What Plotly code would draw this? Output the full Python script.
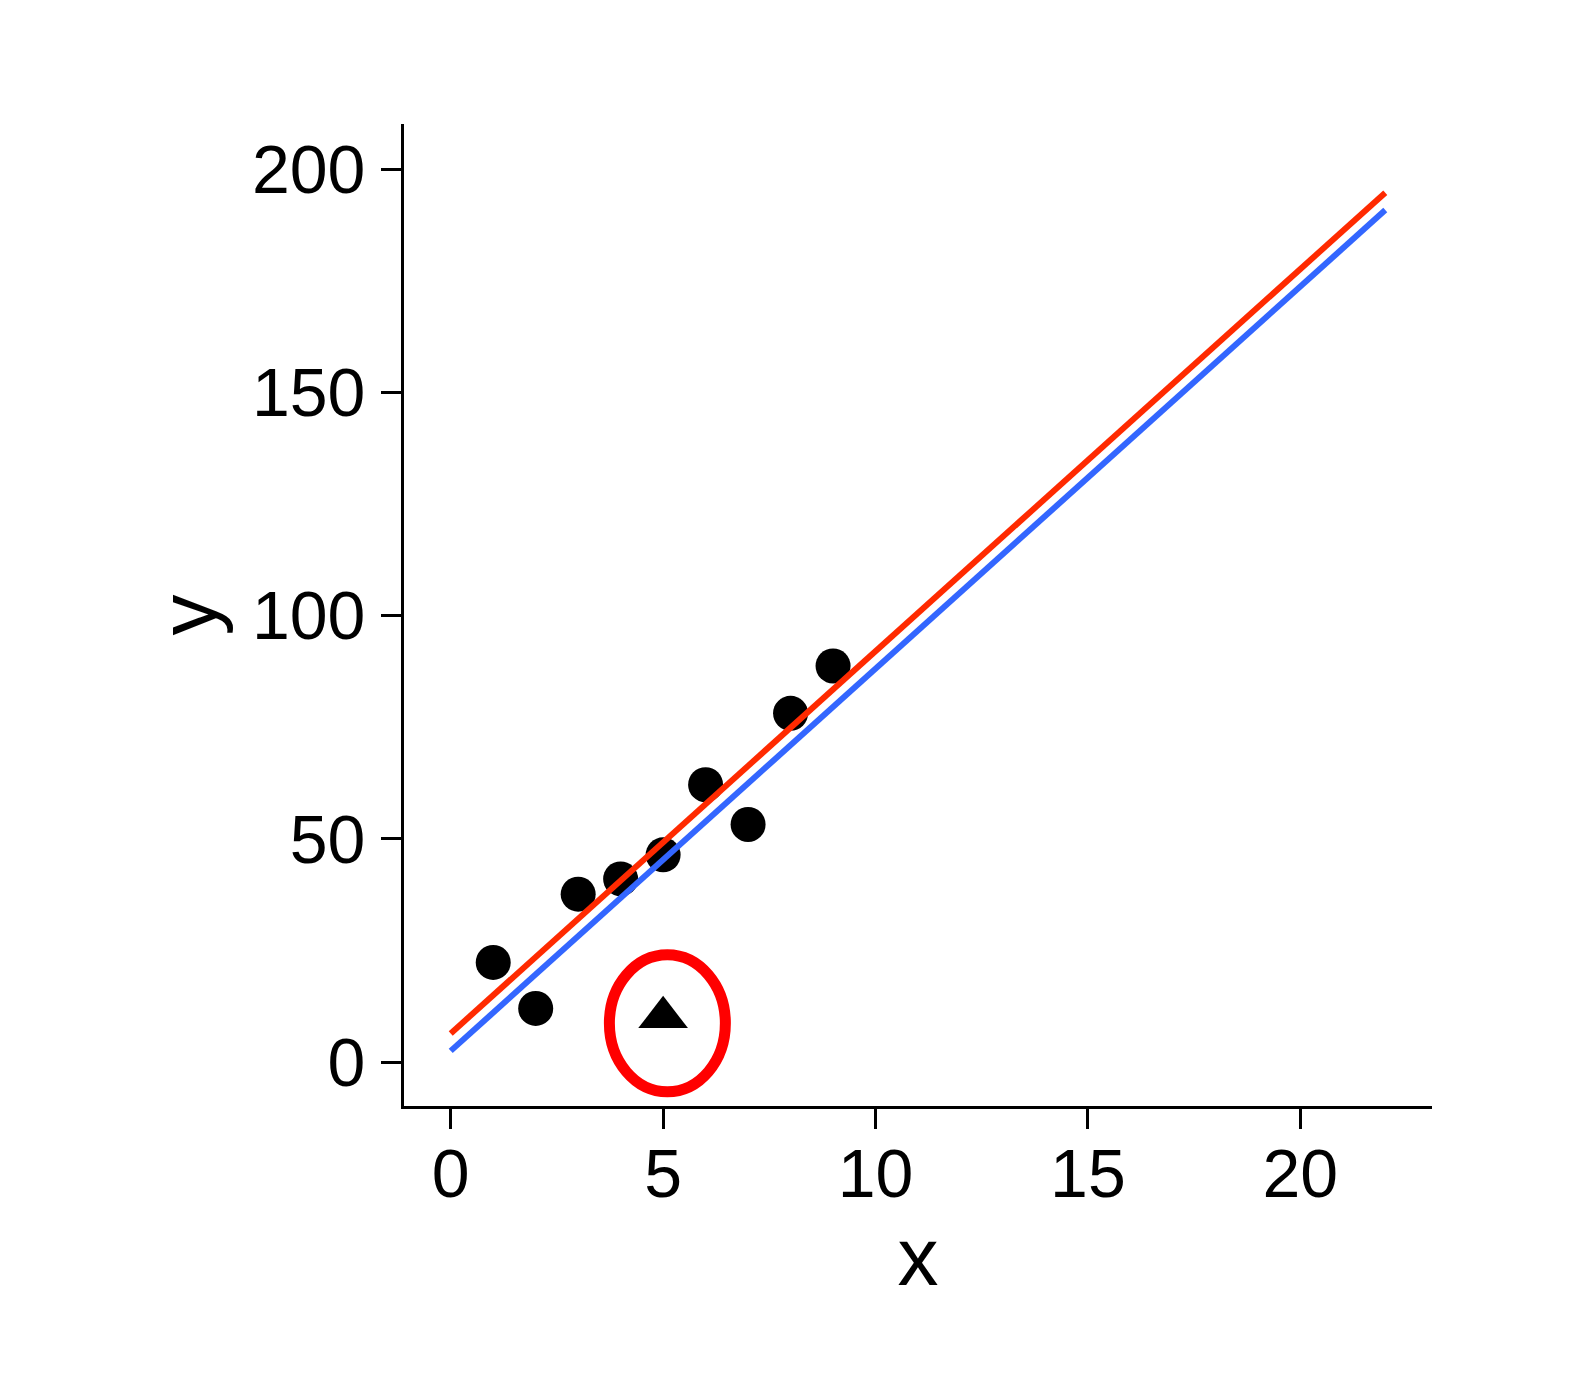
import plotly.graph_objects as go

# ---- data ----
pt_x = [1, 2, 3, 4, 5, 6, 7, 8, 9]
pt_y = [22.3, 12.0, 37.6, 41.0, 46.4, 62.1, 53.2, 78.1, 88.7]

outlier_x = [5]
outlier_y = [10.0]

line_x = [0, 22]
fit_without_outlier = [6.4, 194.7]   # red
fit_with_outlier = [2.5, 190.8]      # blue

x_ticks = [0, 5, 10, 15, 20]
y_ticks = [0, 50, 100, 150, 200]

# highlight ellipse around the outlier (data units)
ell_cx, ell_cy = 5.10, 8.67
ell_rx, ell_ry = 1.365, 15.34

FONT = "Liberation Sans, Arial, sans-serif"

fig = go.Figure()

fig.add_trace(go.Scatter(
    x=pt_x, y=pt_y, mode="markers",
    marker=dict(color="black", size=35, line=dict(width=0)),
    showlegend=False, hoverinfo="x+y"))

fig.add_trace(go.Scatter(
    x=outlier_x, y=outlier_y, mode="markers",
    marker=dict(color="black", size=43, symbol="triangle-up", line=dict(width=0)),
    showlegend=False))

fig.add_trace(go.Scatter(
    x=line_x, y=fit_with_outlier, mode="lines",
    line=dict(color="#3366FF", width=6), showlegend=False))

fig.add_trace(go.Scatter(
    x=line_x, y=fit_without_outlier, mode="lines",
    line=dict(color="#FF2A00", width=6), showlegend=False))

fig.add_shape(type="circle", xref="x", yref="y",
              x0=ell_cx - ell_rx, x1=ell_cx + ell_rx,
              y0=ell_cy - ell_ry, y1=ell_cy + ell_ry,
              line=dict(color="#FF0000", width=11))

axis_common = dict(
    showgrid=False, zeroline=False,
    showline=True, linecolor="black", linewidth=3,
    ticks="outside", ticklen=20, tickwidth=3, tickcolor="black",
    tickfont=dict(family=FONT, size=68, color="black"),
)

fig.update_xaxes(
    range=[-1.1, 23.1], tickvals=x_ticks, ticktext=[str(v) for v in x_ticks],
    ticklabelstandoff=-14,
    title=dict(text="x", font=dict(family=FONT, size=82, color="black"), standoff=18),
    **axis_common)
fig.update_yaxes(
    range=[-9.85, 210.08], tickvals=y_ticks, ticktext=[str(v) for v in y_ticks],
    ticklabelstandoff=2,
    title=dict(text="y", font=dict(family=FONT, size=82, color="black"), standoff=9),
    **axis_common)

fig.update_layout(
    width=1585, height=1397,
    margin=dict(l=396, r=161, t=116, b=299, autoexpand=False),
    paper_bgcolor="white", plot_bgcolor="white",
    font=dict(family=FONT, color="black"),
)

fig.write_html("out.html")
